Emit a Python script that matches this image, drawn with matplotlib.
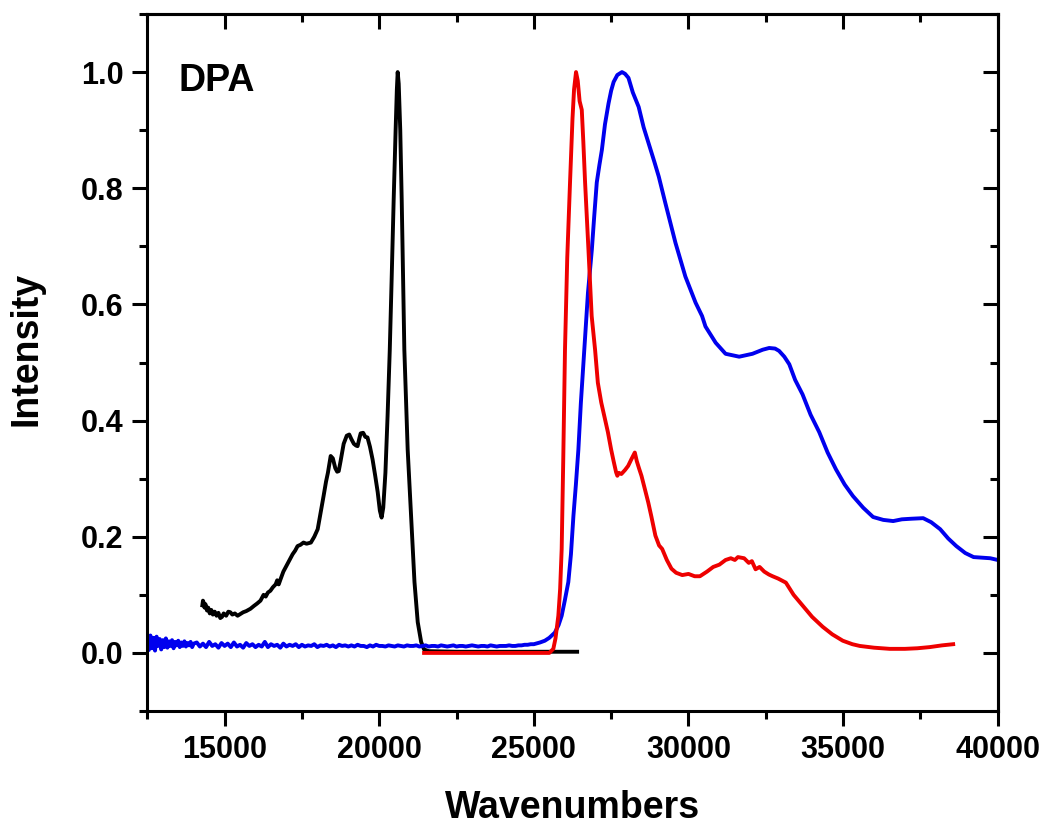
import matplotlib
matplotlib.use('Agg')
import matplotlib.pyplot as plt
from matplotlib.ticker import MultipleLocator, FormatStrFormatter, NullFormatter

# ---------------- data ----------------
black_x = [14280, 14300, 14320, 14350, 14380, 14430, 14470, 14520, 14570, 14620,
           14680, 14740, 14800, 14860, 14915, 14970, 15050, 15120, 15185, 15250,
           15330, 15420, 15510, 15600, 15700, 15835, 15950, 16050, 16160, 16260,
           16330, 16400, 16480, 16560, 16650, 16700, 16750, 16810, 16900, 17000,
           17100, 17200, 17280, 17360, 17450, 17550, 17650, 17790, 17900, 18010,
           18100, 18200, 18280, 18340, 18430, 18500, 18580, 18640, 18690, 18750,
           18850, 18950, 19030, 19100, 19180, 19250, 19300, 19360, 19400, 19480,
           19550, 19620, 19700, 19785, 19870, 19950, 20020, 20077, 20130, 20200,
           20270, 20340, 20400, 20467, 20530, 20570, 20597, 20630, 20680, 20727,
           20770, 20812, 20870, 20920, 21030, 21140, 21245, 21355, 21450, 21600,
           22500, 24000, 25500, 26400]
black_y = [0.082, 0.090, 0.087, 0.078, 0.084, 0.073, 0.078, 0.068, 0.074, 0.066,
           0.071, 0.064, 0.069, 0.060, 0.062, 0.068, 0.064, 0.071, 0.070, 0.066,
           0.068, 0.064, 0.067, 0.070, 0.072, 0.076, 0.081, 0.085, 0.090, 0.100,
           0.097, 0.104, 0.107, 0.113, 0.118, 0.125, 0.118, 0.127, 0.140, 0.150,
           0.160, 0.170, 0.176, 0.184, 0.186, 0.190, 0.188, 0.190, 0.200, 0.213,
           0.240, 0.270, 0.295, 0.310, 0.339, 0.335, 0.318, 0.312, 0.313, 0.330,
           0.360, 0.374, 0.376, 0.368, 0.360, 0.357, 0.356, 0.370, 0.378, 0.379,
           0.372, 0.371, 0.355, 0.333, 0.305, 0.277, 0.245, 0.233, 0.250, 0.310,
           0.408, 0.520, 0.640, 0.780, 0.900, 0.970, 1.000, 0.980, 0.900, 0.780,
           0.650, 0.522, 0.430, 0.350, 0.236, 0.122, 0.053, 0.019, 0.006, 0.003,
           0.002, 0.002, 0.002, 0.002]

blue_x = ([12500 + 50 * i for i in range(31)] +
          [14100 + 100 * i for i in range(110)] +
          [25200, 25355, 25500, 25680, 25800, 25900, 26000, 26115, 26200, 26280,
           26360, 26440, 26520, 26630, 26750, 26875, 26950, 27035, 27120, 27200,
           27300, 27415, 27500, 27580, 27700, 27850, 27950, 28060, 28200, 28390,
           28550, 28714, 28900, 29040, 29250, 29580, 29900, 30230, 30440, 30550,
           30880, 31200, 31640, 32070, 32400, 32610, 32800, 32930, 33100, 33260,
           33450, 33690, 33950, 34230, 34500, 34770, 35050, 35320, 35650, 35970,
           36300, 36620, 36900, 37200, 37590, 37850, 38140, 38400, 38660, 38950,
           39220, 39500, 39760, 40000])
blue_y = ([0.020, 0.005, 0.030, 0.008, 0.026, 0.004, 0.028, 0.012, 0.024, 0.006,
           0.022, 0.010, 0.025, 0.009, 0.020, 0.012, 0.022, 0.008, 0.019, 0.013,
           0.021, 0.010, 0.018, 0.012, 0.020, 0.011, 0.017, 0.013, 0.019, 0.010,
           0.016] +
          [0.018, 0.011, 0.016, 0.010, 0.019, 0.012, 0.015, 0.009, 0.017, 0.012,
           0.016, 0.010, 0.018, 0.011, 0.014, 0.009, 0.017, 0.012, 0.015, 0.010,
           0.014, 0.011, 0.019, 0.010, 0.015, 0.012, 0.014, 0.009, 0.016, 0.011,
           0.014, 0.012, 0.015, 0.010, 0.014, 0.011, 0.013, 0.012, 0.015, 0.010,
           0.013, 0.012, 0.014, 0.011, 0.013, 0.010, 0.014, 0.012, 0.013, 0.011,
           0.013, 0.011, 0.014, 0.012, 0.012, 0.010, 0.013, 0.011, 0.014, 0.012,
           0.012, 0.011, 0.013, 0.012, 0.011, 0.013, 0.012, 0.011, 0.013, 0.012,
           0.012, 0.013, 0.011, 0.012, 0.013, 0.011, 0.012, 0.012, 0.011, 0.013,
           0.012, 0.011, 0.012, 0.013, 0.011, 0.012, 0.012, 0.011, 0.012, 0.013,
           0.012, 0.011, 0.012, 0.012, 0.011, 0.013, 0.012, 0.011, 0.012, 0.012,
           0.012, 0.013, 0.012, 0.012, 0.013, 0.013, 0.014, 0.014, 0.015, 0.015] +
          [0.018, 0.021, 0.026, 0.035, 0.048, 0.064, 0.090, 0.122, 0.170, 0.236,
           0.290, 0.350, 0.430, 0.522, 0.620, 0.694, 0.750, 0.810, 0.840, 0.866,
           0.910, 0.946, 0.968, 0.983, 0.995, 1.000, 0.997, 0.990, 0.965, 0.940,
           0.905, 0.877, 0.845, 0.820, 0.775, 0.706, 0.648, 0.603, 0.580, 0.562,
           0.534, 0.515, 0.510, 0.515, 0.522, 0.525, 0.524, 0.520, 0.510, 0.497,
           0.470, 0.445, 0.410, 0.380, 0.345, 0.316, 0.290, 0.270, 0.250, 0.234,
           0.229, 0.227, 0.230, 0.231, 0.232, 0.225, 0.213, 0.197, 0.184, 0.172,
           0.165, 0.164, 0.163, 0.160])

red_x = [21450, 22000, 23000, 24000, 25000, 25500, 25630, 25700, 25792, 25850,
         25900, 25950, 26007, 26080, 26170, 26250, 26300, 26364, 26420, 26480,
         26550, 26600, 26657, 26766, 26870, 26980, 27070, 27180, 27290, 27395,
         27500, 27580, 27660, 27700, 27750, 27830, 27950, 28050, 28150, 28265,
         28330, 28400, 28480, 28600, 28700, 28800, 28930, 29050, 29150, 29300,
         29450, 29600, 29800, 30000, 30200, 30370, 30600, 30800, 31000, 31200,
         31370, 31500, 31600, 31800, 31950, 32050, 32170, 32300, 32450, 32600,
         32720, 32900, 33150, 33400, 33700, 34000, 34340, 34650, 34990, 35300,
         35540, 36000, 36510, 37000, 37400, 37800, 38200, 38560]
red_y = [0.000, 0.000, 0.000, 0.000, 0.000, 0.000, 0.007, 0.025, 0.064, 0.110,
         0.179, 0.330, 0.522, 0.680, 0.810, 0.920, 0.970, 1.000, 0.985, 0.950,
         0.935, 0.880, 0.810, 0.694, 0.580, 0.522, 0.465, 0.431, 0.405, 0.380,
         0.350, 0.330, 0.311, 0.305, 0.310, 0.308, 0.315, 0.322, 0.333, 0.345,
         0.330, 0.318, 0.305, 0.280, 0.259, 0.235, 0.202, 0.185, 0.179, 0.160,
         0.145, 0.138, 0.134, 0.136, 0.132, 0.132, 0.140, 0.148, 0.152, 0.160,
         0.163, 0.160, 0.165, 0.163, 0.155, 0.158, 0.144, 0.148, 0.140, 0.135,
         0.132, 0.128, 0.121, 0.100, 0.081, 0.062, 0.045, 0.032, 0.021, 0.015,
         0.012, 0.009, 0.007, 0.007, 0.008, 0.010, 0.013, 0.015]

x_limits = (12500, 40000)
y_limits = (-0.1, 1.1)
x_label = 'Wavenumbers'
y_label = 'Intensity'
panel_label = 'DPA'

# ---------------- figure ----------------
plt.rcParams['font.family'] = ['Liberation Sans', 'DejaVu Sans']
plt.rcParams['font.weight'] = 'bold'

W, H = 1046, 827
fig = plt.figure(figsize=(W / 100, H / 100), dpi=100)
left, right, top, bottom = 147.3, 997.7, 14, 711
ax = fig.add_axes([left / W, 1 - bottom / H, (right - left) / W, (bottom - top) / H])

lw = 2.8
ax.plot(black_x, black_y, color='black', lw=lw)
ax.plot(blue_x, blue_y, color='#0000EE', lw=lw)
ax.plot(red_x, red_y, color='#EE0000', lw=lw)

ax.set_xlim(*x_limits)
ax.set_ylim(*y_limits)

ax.xaxis.set_major_locator(MultipleLocator(5000))
ax.xaxis.set_minor_locator(MultipleLocator(2500))
ax.yaxis.set_major_locator(MultipleLocator(0.2))
ax.yaxis.set_minor_locator(MultipleLocator(0.1))
ax.yaxis.set_major_formatter(FormatStrFormatter('%.1f'))

ax.tick_params(which='major', direction='out', length=11, width=2.2,
               labelsize=22, pad=6)
ax.tick_params(which='minor', direction='out', length=6, width=2.2)
for sp in ax.spines.values():
    sp.set_linewidth(2.2)

secx = ax.secondary_xaxis('top')
secx.xaxis.set_major_locator(MultipleLocator(5000))
secx.xaxis.set_minor_locator(MultipleLocator(2500))
secx.xaxis.set_major_formatter(NullFormatter())
secx.tick_params(which='major', direction='in', length=11, width=2.2)
secx.tick_params(which='minor', direction='in', length=6, width=2.2)
secx.spines['top'].set_linewidth(2.2)

secy = ax.secondary_yaxis('right')
secy.yaxis.set_major_locator(MultipleLocator(0.2))
secy.yaxis.set_minor_locator(MultipleLocator(0.1))
secy.yaxis.set_major_formatter(NullFormatter())
secy.tick_params(which='major', direction='in', length=11, width=2.2)
secy.tick_params(which='minor', direction='in', length=6, width=2.2)
secy.spines['right'].set_linewidth(2.2)

for lab in ax.get_xticklabels() + ax.get_yticklabels():
    lab.set_fontweight('bold')

ax.set_xlabel(x_label, fontsize=27, fontweight='bold', labelpad=18)
ax.set_ylabel(y_label, fontsize=27, fontweight='bold', labelpad=26)
ax.yaxis.label.set_y(0.52)

ax.text(13500, 0.967, panel_label, fontsize=27, fontweight='bold',
        ha='left', va='baseline')

fig.savefig('out.png', dpi=100)
